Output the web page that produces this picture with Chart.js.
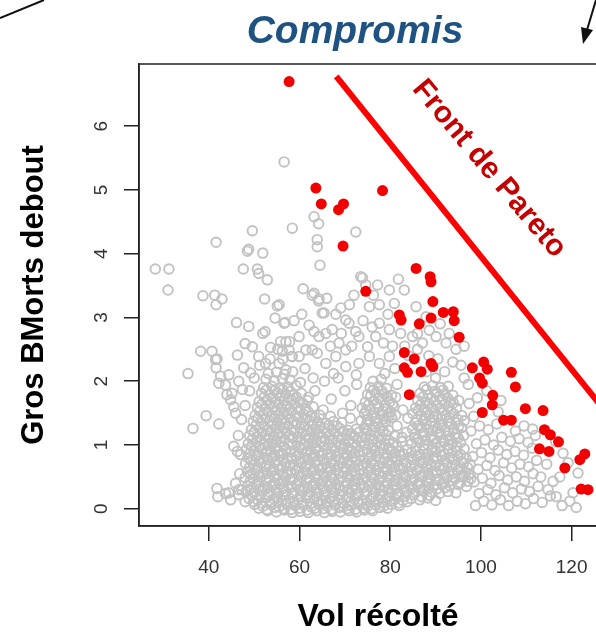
<!DOCTYPE html>
<html>
<head>
<meta charset="utf-8">
<title>Compromis</title>
<script src="https://cdn.jsdelivr.net/npm/chart.js@4.4.1/dist/chart.umd.min.js"></script>
<style>
  html, body { margin: 0; padding: 0; background: #fff; overflow: hidden; }
  #wrap { width: 640px; height: 636px; }
</style>
</head>
<body>
<div id="wrap"><canvas id="paretoChart" width="640" height="636"></canvas></div>
<script>
// labels
var chartTitle = 'Compromis';
var xTitle = 'Vol récolté';
var yTitle = 'Gros BMorts debout';
var frontLabel = 'Front de Pareto';

// axis ticks
var xTicks = [40, 60, 80, 100, 120];
var yTicks = [0, 1, 2, 3, 4, 5, 6];

// non dominated solutions (red dots)
var frontPoints = [
  [57.7,6.70],[63.6,5.03],[64.8,4.78],[68.6,4.69],[69.7,4.78],[78.3,4.99],[69.6,4.12],[74.6,3.41],
  [85.7,3.77],[88.8,3.64],[89.0,3.56],[89.4,3.25],[91.7,3.08],[93.9,3.09],[94.1,2.95],[89.0,2.99],
  [82.0,3.04],[82.4,2.96],[86.4,2.90],[95.2,2.69],[83.1,2.45],[85.3,2.35],[83.1,2.21],[83.8,2.14],
  [86.8,2.15],[89.0,2.28],[89.4,2.23],[84.2,1.79],[98.1,2.21],[100.6,2.30],[101.4,2.19],[99.7,2.05],
  [100.3,1.97],[106.7,2.14],[107.6,1.91],[102.6,1.78],[102.5,1.63],[100.3,1.51],[105.0,1.39],[106.7,1.39],
  [109.8,1.57],[113.7,1.54],[114.0,1.24],[115.3,1.16],[117.1,1.05],[112.9,0.94],[115.0,0.90],[118.5,0.64],
  [121.8,0.77],[122.9,0.86],[122.1,0.31],[123.6,0.30]
];

// pareto front line
var frontLine = [[68.1,6.78],[130,1.30]];

// scattered solutions away from the main cloud
var greyOutliers = [
  [56.6,5.44],[63.2,4.58],[64.2,4.47],[49.6,4.36],[58.4,4.40],[72.4,4.34],[41.6,4.18],[48.5,4.04],
  [48.8,4.07],[51.9,4.01],[63.9,4.22],[63.9,4.11],[64.5,3.82],[28.2,3.76],[31.2,3.76],[31.0,3.43],
  [47.6,3.76],[50.7,3.76],[51.0,3.69],[52.9,3.59],[38.7,3.34],[41.3,3.35],[42.9,3.29],[41.6,3.20],
  [52.3,3.29],[55.1,3.18],[54.6,2.99],[56.8,2.92],[46.1,2.92],[48.8,2.86],[51.9,2.75],[52.4,2.78],
  [48.0,2.59],[49.6,2.54],[53.6,2.53],[55.8,2.62],[57.8,2.62],[56.2,2.47],[58.3,2.39],[38.2,2.47],
  [40.7,2.47],[41.8,2.35],[46.3,2.41],[51.0,2.39],[52.5,2.28],[35.4,2.12],[41.6,2.21],[42.6,2.08],
  [44.4,2.10],[42.2,1.97],[43.7,1.94],[45.1,1.81],[39.4,1.46],[42.2,1.33],[36.5,1.26],[41.8,0.32],
  [42.0,0.19],[44.4,0.25],[44.8,0.14],[48.0,0.11],[46.6,0.30],[45.5,0.98],[46.3,0.90],[41.5,2.34],
  [44.0,1.79],[44.8,1.71],[47.7,2.21],[49.2,2.13],[46.6,2.00],[47.4,1.87],[45.5,1.60],[45.9,1.50],
  [43.7,0.24],[46.6,0.22]
];

// upper part of the cloud, between 2 and 4
var greyUpper = [
  [55.5,3.20],[56.6,2.91],[57.0,2.62],[57.7,2.49],[55.5,2.28],[57.0,2.18],[58.4,2.39],[62.8,3.35],
  [64.2,3.26],[65.0,3.07],[63.2,2.78],[64.3,2.70],[65.8,2.75],[62.8,2.49],[63.9,2.44],[69.1,3.15],
  [70.9,2.91],[72.4,2.78],[68.7,2.60],[70.2,2.49],[73.1,2.70],[75.0,2.54],[72.0,3.35],[73.9,3.62],
  [75.4,3.17],[77.6,3.20],[80.9,3.22],[83.1,3.43],[85.7,3.17],[87.9,3.01],[77.6,2.91],[79.8,2.81],
  [76.8,2.70],[84.9,2.70],[87.1,2.60],[90.1,2.70],[92.3,2.60],[59.9,2.70],[61.4,2.49],[59.9,2.39],
  [65.8,2.28],[68.0,2.39],[70.2,2.23],[73.1,2.28],[75.4,2.39],[77.6,2.28],[79.8,2.39],[65.4,3.07],
  [67.2,2.81],[62.1,2.88],[70.2,2.96],[73.5,3.64],[79.8,3.43],[77.2,3.51],[74.6,3.51],[63.2,3.38],
  [64.3,3.29],[60.5,3.05],[61.2,2.20],[63.0,2.05],[66.8,2.55],[67.5,2.12],[69.2,2.75],[71.5,2.55],
  [72.5,2.10],[74.0,2.95],[76.0,2.85],[78.5,2.60],[78.8,2.12],[80.5,2.55],[81.0,2.20],[82.3,2.75],
  [83.2,2.55],[81.5,1.95],[84.0,2.40],[86.0,2.50],[88.5,2.40],[90.5,2.35],[92.0,2.15],[93.8,2.30],
  [95.6,2.25],[94.5,2.50],[96.3,2.05],[97.2,1.95],[88.0,2.15],[90.0,2.05],[86.0,2.75],[88.6,2.80],
  [91.0,2.90],[93.0,2.75],[96.3,2.55],[81.8,3.60],[79.5,3.05],[76.3,3.35],[71.0,3.20],[68.0,3.05],
  [66.0,3.30],[60.8,3.45],[58.8,2.95],[58.5,2.15],[60.2,1.98],[56.3,2.35],[53.5,2.35],[55.2,2.50],
  [51.2,2.25],[50.0,2.05]
];

// dense core of the cloud
var greyCore = [
  [53.0,-0.03],[54.9,-0.05],[56.6,-0.02],[58.4,-0.06],[60.1,-0.04],[61.9,-0.06],[63.8,-0.03],[65.5,-0.06],
  [67.2,-0.04],[69.0,-0.05],[70.9,-0.03],[72.6,-0.05],[74.3,-0.02],[76.1,-0.03],
  [50.1,0.07],[51.9,0.04],[53.7,0.06],[55.5,0.03],[57.2,0.07],[59.0,0.05],[60.8,0.06],[62.6,0.03],
  [64.3,0.07],[66.1,0.04],[67.9,0.06],[69.6,0.03],[71.4,0.05],[73.2,0.07],[75.0,0.04],[76.8,0.06],
  [78.5,0.04],[80.2,0.07],[82.0,0.05],
  [48.9,0.16],[50.8,0.14],[52.6,0.17],[54.4,0.15],[56.1,0.13],[57.9,0.16],[59.7,0.14],[61.5,0.17],
  [63.2,0.15],[65.0,0.13],[66.8,0.16],[68.5,0.14],[70.3,0.17],[72.1,0.15],[73.9,0.13],[75.7,0.16],
  [77.4,0.14],[79.2,0.17],[81.0,0.15],[82.8,0.13],[84.6,0.16],[86.5,0.14],[88.3,0.17],[90.0,0.13],
  [48.2,0.27],[50.0,0.25],[51.7,0.28],[53.5,0.26],[55.3,0.24],[57.0,0.27],[58.8,0.25],[60.6,0.28],
  [62.4,0.26],[64.1,0.24],[65.9,0.27],[67.7,0.25],[69.4,0.28],[71.2,0.26],[73.0,0.24],[74.8,0.27],
  [76.6,0.25],[78.3,0.28],[80.1,0.26],[81.9,0.24],[83.7,0.27],[85.5,0.25],[87.3,0.28],[89.1,0.26],
  [90.9,0.24],[92.7,0.27],[94.5,0.25],
  [48.6,0.36],[50.4,0.38],[52.2,0.35],[53.9,0.37],[55.7,0.39],[57.5,0.36],[59.3,0.38],[61.0,0.35],
  [62.8,0.37],[64.6,0.39],[66.4,0.36],[68.1,0.38],[69.9,0.35],[71.7,0.37],[73.5,0.39],[75.2,0.36],
  [77.0,0.38],[78.8,0.35],[80.6,0.37],[82.4,0.39],[84.2,0.36],[86.0,0.38],[87.8,0.35],[89.6,0.37],
  [91.4,0.39],[93.2,0.36],[95.0,0.38],[96.8,0.35],
  [48.0,0.49],[49.8,0.47],[51.5,0.50],[53.3,0.48],[55.1,0.46],[56.9,0.49],[58.6,0.47],[60.4,0.50],
  [62.2,0.48],[64.0,0.46],[65.7,0.49],[67.5,0.47],[69.3,0.50],[71.0,0.48],[72.8,0.46],[74.6,0.49],
  [76.4,0.47],[78.1,0.50],[79.9,0.48],[81.7,0.46],[83.5,0.49],[85.3,0.47],[87.1,0.50],[88.9,0.48],
  [90.7,0.46],[92.5,0.49],[94.3,0.47],[96.1,0.50],[97.8,0.48],
  [48.5,0.58],[50.3,0.60],[52.0,0.57],[53.8,0.59],[55.6,0.61],[57.3,0.58],[59.1,0.60],[60.9,0.57],
  [62.7,0.59],[64.4,0.61],[66.2,0.58],[68.0,0.60],[69.8,0.57],[71.5,0.59],[73.3,0.61],[75.1,0.58],
  [76.9,0.60],[78.7,0.57],[80.4,0.59],[82.2,0.61],[84.0,0.58],[85.8,0.60],[87.6,0.57],[89.4,0.59],
  [91.2,0.61],[93.0,0.58],[94.8,0.60],[96.6,0.57],
  [48.1,0.71],[49.9,0.69],[51.6,0.72],[53.4,0.70],[55.2,0.68],[57.0,0.71],[58.7,0.69],[60.5,0.72],
  [62.3,0.70],[64.1,0.68],[65.8,0.71],[67.6,0.69],[69.4,0.72],[71.1,0.70],[72.9,0.68],[74.7,0.71],
  [76.5,0.69],[78.3,0.72],[80.0,0.70],[81.8,0.68],[83.6,0.71],[85.4,0.69],[87.2,0.72],[89.0,0.70],
  [90.8,0.68],[92.6,0.71],[94.4,0.69],[96.2,0.72],[97.6,0.70],
  [48.6,0.80],[50.4,0.82],[52.1,0.79],[53.9,0.81],[55.7,0.83],[57.4,0.80],[59.2,0.82],[61.0,0.79],
  [62.8,0.81],[64.5,0.83],[66.3,0.80],[68.1,0.82],[69.9,0.79],[71.6,0.81],[73.4,0.83],[75.2,0.80],
  [77.0,0.82],[78.8,0.79],[80.5,0.81],[82.3,0.83],[84.1,0.80],[85.9,0.82],[87.7,0.79],[89.5,0.81],
  [91.3,0.83],[93.1,0.80],[94.9,0.82],[96.7,0.79],
  [48.3,0.93],[50.0,0.91],[51.8,0.94],[53.6,0.92],[55.3,0.90],[57.1,0.93],[58.9,0.91],[60.7,0.94],
  [62.4,0.92],[64.2,0.90],[66.0,0.93],[67.8,0.91],[69.5,0.94],[71.3,0.92],[73.1,0.90],[74.9,0.93],
  [76.6,0.91],[78.4,0.94],[80.2,0.92],[82.0,0.90],[83.8,0.93],[85.6,0.91],[87.4,0.94],[89.2,0.92],
  [91.0,0.90],[92.8,0.93],[94.6,0.91],[96.3,0.94],
  [48.7,1.02],[50.5,1.04],[52.3,1.01],[54.0,1.03],[55.8,1.05],[57.6,1.02],[59.4,1.04],[61.1,1.01],
  [62.9,1.03],[64.7,1.05],[66.5,1.02],[68.2,1.04],[70.0,1.01],[71.8,1.03],[73.6,1.05],[75.3,1.02],
  [77.1,1.04],[78.9,1.01],[80.7,1.03],[82.5,1.05],[84.7,1.02],[86.5,1.04],[88.3,1.01],[90.1,1.03],
  [91.9,1.05],[93.7,1.02],[95.5,1.04],
  [49.0,1.15],[50.8,1.13],[52.5,1.16],[54.3,1.14],[56.1,1.12],[57.9,1.15],[59.6,1.13],[61.4,1.16],
  [63.2,1.14],[65.0,1.12],[66.7,1.15],[68.5,1.13],[70.3,1.16],[72.0,1.14],[73.8,1.12],[75.6,1.15],
  [77.4,1.13],[79.1,1.16],[81.0,1.14],[85.4,1.12],[87.2,1.15],[89.0,1.13],[90.8,1.16],[92.6,1.14],
  [94.4,1.12],[96.2,1.15],
  [49.4,1.24],[51.2,1.26],[53.0,1.23],[54.8,1.25],[56.5,1.27],[58.3,1.24],[60.1,1.26],[61.8,1.23],
  [63.6,1.25],[65.4,1.27],[67.2,1.24],[68.9,1.26],[70.7,1.23],[72.5,1.25],[74.3,1.27],[76.1,1.24],
  [77.8,1.26],[79.6,1.23],[84.9,1.25],[86.7,1.27],[88.5,1.24],[90.3,1.26],[92.1,1.23],[93.9,1.25],
  [95.7,1.27],
  [49.8,1.37],[51.6,1.35],[53.4,1.38],[55.1,1.36],[56.9,1.34],[58.7,1.37],[60.4,1.35],[62.2,1.38],
  [64.0,1.36],[65.8,1.34],[67.5,1.37],[69.3,1.35],[73.6,1.38],[75.4,1.36],[77.2,1.34],[79.0,1.37],
  [85.5,1.35],[87.3,1.38],[89.1,1.36],[90.9,1.34],[92.7,1.37],[94.5,1.35],[96.3,1.38],
  [50.2,1.46],[52.0,1.48],[53.8,1.45],[55.6,1.47],[57.3,1.49],[59.1,1.46],[60.9,1.48],[62.6,1.45],
  [64.4,1.47],[74.3,1.49],[76.1,1.46],[77.9,1.48],[79.7,1.45],[81.2,1.47],[85.0,1.49],[86.8,1.46],
  [88.6,1.48],[90.4,1.45],[92.2,1.47],[94.0,1.49],[95.8,1.46],
  [50.7,1.59],[52.5,1.57],[54.2,1.60],[56.0,1.58],[57.8,1.56],[59.6,1.59],[61.3,1.57],[63.0,1.60],
  [73.8,1.58],[75.6,1.56],[77.4,1.59],[79.2,1.57],[80.8,1.60],[85.6,1.58],[87.4,1.56],[89.2,1.59],
  [91.0,1.57],[92.8,1.60],[94.6,1.58],
  [51.1,1.68],[52.9,1.70],[54.7,1.67],[56.5,1.69],[58.2,1.71],[60.0,1.68],[61.7,1.70],[74.5,1.67],
  [76.3,1.69],[78.1,1.71],[79.9,1.68],[86.1,1.70],[87.9,1.67],[89.7,1.69],[91.5,1.71],[93.3,1.68],
  [95.1,1.70],
  [51.6,1.81],[53.4,1.79],[55.1,1.82],[56.9,1.80],[58.7,1.78],[60.4,1.81],[75.0,1.79],[76.8,1.82],
  [78.6,1.80],[80.3,1.78],[86.6,1.81],[88.4,1.79],[90.2,1.82],[92.0,1.80],[93.8,1.78],
  [52.1,1.90],[53.9,1.92],[55.7,1.89],[57.4,1.91],[59.2,1.93],[75.6,1.90],[77.4,1.92],[79.2,1.89],
  [87.5,1.91],[89.3,1.93],[91.1,1.90],[92.8,1.92],
  [52.6,2.03],[54.4,2.01],[56.2,2.04],[57.9,2.02],[76.2,2.00],[78.0,2.03],
  [53.1,2.12],[54.9,2.14],[56.7,2.11],
  [65.2,1.55],[67.0,1.72],[69.5,1.50],[71.3,1.62],[70.0,1.85],[72.6,1.95],[63.4,1.85],[65.5,2.00],
  [68.5,2.05],[81.5,1.30],[82.8,1.55],[81.2,1.75],[83.5,1.20],[82.6,1.12],[83.9,1.42],[71.2,1.42],
  [66.8,1.45],[62.0,1.75],[46.8,0.55],[47.0,0.85],[46.5,1.15],[47.2,1.40],[48.0,1.62],[49.0,1.85],
  [45.9,0.40],[47.3,0.30]
];

// dense core, points lying between the rows above
var greyCoreFill = [
  [51.0,0.01],[52.8,-0.01],[54.6,0.02],[56.4,0.00],[58.1,-0.01],[59.9,0.01],[61.7,-0.02],[63.4,0.01],
  [65.2,0.00],[67.0,-0.01],[68.8,0.02],[70.5,0.00],[72.3,-0.01],[74.1,0.01],[75.9,0.00],[77.7,0.02],
  [79.4,0.01],
  [49.9,0.11],[51.7,0.09],[53.5,0.10],[55.3,0.12],[57.0,0.09],[58.8,0.11],[60.6,0.10],[62.4,0.08],
  [64.1,0.11],[65.9,0.10],[67.7,0.12],[69.4,0.09],[71.2,0.11],[73.0,0.10],[74.8,0.08],[76.6,0.11],
  [78.3,0.10],[80.1,0.12],[81.9,0.09],[83.7,0.11],
  [49.5,0.21],[51.3,0.20],[53.1,0.22],[54.9,0.19],[56.6,0.21],[58.4,0.23],[60.2,0.20],[62.0,0.22],
  [63.7,0.19],[65.5,0.21],[67.3,0.20],[69.0,0.22],[70.8,0.19],[72.6,0.21],[74.4,0.23],[76.2,0.20],
  [77.9,0.22],[79.7,0.19],[81.5,0.21],[83.3,0.20],[85.1,0.22],[86.9,0.19],[88.7,0.21],
  [49.3,0.32],[51.1,0.31],[52.9,0.33],[54.7,0.30],[56.4,0.32],[58.2,0.34],[60.0,0.31],[61.8,0.33],
  [63.5,0.30],[65.3,0.32],[67.1,0.31],[68.8,0.33],[70.6,0.30],[72.4,0.32],[74.2,0.34],[76.0,0.31],
  [77.7,0.33],[79.5,0.30],[81.3,0.32],[83.1,0.31],[84.9,0.33],[86.7,0.30],[88.5,0.32],[90.3,0.31],
  [92.1,0.33],
  [49.1,0.43],[50.9,0.42],[52.7,0.44],[54.5,0.41],[56.3,0.43],[58.0,0.45],[59.8,0.42],[61.6,0.44],
  [63.4,0.41],[65.1,0.43],[66.9,0.42],[68.7,0.44],[70.5,0.41],[72.2,0.43],[74.0,0.45],[75.8,0.42],
  [77.6,0.44],[79.3,0.41],[81.1,0.43],[82.9,0.42],[84.7,0.44],[86.5,0.41],[88.3,0.43],[90.1,0.45],
  [91.9,0.42],[93.7,0.44],[95.5,0.41],[97.2,0.43],
  [49.2,0.54],[51.0,0.53],[52.8,0.55],[54.5,0.52],[56.3,0.54],[58.1,0.56],[59.9,0.53],[61.6,0.55],
  [63.4,0.52],[65.2,0.54],[67.0,0.53],[68.7,0.55],[70.5,0.52],[72.3,0.54],[74.1,0.56],[75.8,0.53],
  [77.6,0.55],[79.4,0.52],[81.2,0.54],[83.0,0.53],[84.8,0.55],[86.6,0.52],[88.4,0.54],[90.2,0.56],
  [92.0,0.53],[93.8,0.55],[95.6,0.52],[97.3,0.54],
  [49.0,0.65],[50.8,0.64],[52.6,0.66],[54.3,0.63],[56.1,0.65],[57.9,0.67],[59.7,0.64],[61.4,0.66],
  [63.2,0.63],[65.0,0.65],[66.8,0.64],[68.5,0.66],[70.3,0.63],[72.1,0.65],[73.9,0.67],[75.6,0.64],
  [77.4,0.66],[79.2,0.63],[81.0,0.65],[82.8,0.64],[84.6,0.66],[86.4,0.63],[88.2,0.65],[90.0,0.67],
  [91.8,0.64],[93.6,0.66],[95.4,0.63],[97.0,0.65],
  [49.3,0.76],[51.1,0.75],[52.9,0.77],[54.6,0.74],[56.4,0.76],[58.2,0.78],[60.0,0.75],[61.7,0.77],
  [63.5,0.74],[65.3,0.76],[67.1,0.75],[68.8,0.77],[70.6,0.74],[72.4,0.76],[74.2,0.78],[75.9,0.75],
  [77.7,0.77],[79.5,0.74],[81.3,0.76],[83.0,0.75],[84.8,0.77],[86.6,0.74],[88.4,0.76],[90.2,0.78],
  [92.0,0.75],[93.8,0.77],[95.6,0.74],
  [49.1,0.87],[50.9,0.86],[52.7,0.88],[54.5,0.85],[56.2,0.87],[58.0,0.89],[59.8,0.86],[61.6,0.88],
  [63.3,0.85],[65.1,0.87],[66.9,0.86],[68.7,0.88],[70.4,0.85],[72.2,0.87],[74.0,0.89],[75.8,0.86],
  [77.5,0.88],[79.3,0.85],[81.1,0.87],[82.9,0.86],[84.7,0.88],[86.5,0.85],[88.3,0.87],[90.1,0.89],
  [91.9,0.86],[93.7,0.88],[95.5,0.85],
  [49.4,0.98],[51.2,0.97],[53.0,0.99],[54.8,0.96],[56.5,0.98],[58.3,1.00],[60.1,0.97],[61.9,0.99],
  [63.6,0.96],[65.4,0.98],[67.2,0.97],[69.0,0.99],[70.7,0.96],[72.5,0.98],[74.3,1.00],[76.1,0.97],
  [77.8,0.99],[79.6,0.96],[81.4,0.98],[85.7,0.97],[87.5,0.99],[89.3,0.96],[91.1,0.98],[92.9,1.00],
  [94.7,0.97],
  [49.6,1.09],[51.4,1.08],[53.2,1.10],[55.0,1.07],[56.7,1.09],[58.5,1.11],[60.3,1.08],[62.1,1.10],
  [63.8,1.07],[65.6,1.09],[67.4,1.08],[69.2,1.10],[70.9,1.07],[72.7,1.09],[74.5,1.11],[76.3,1.08],
  [78.0,1.10],[79.8,1.07],[86.0,1.09],[87.8,1.08],[89.6,1.10],[91.4,1.07],[93.2,1.09],[95.0,1.11],
  [50.0,1.20],[51.8,1.19],[53.6,1.21],[55.4,1.18],[57.1,1.20],[58.9,1.22],[60.7,1.19],[62.5,1.21],
  [64.2,1.18],[66.0,1.20],[67.8,1.19],[69.6,1.21],[71.3,1.18],[73.1,1.20],[74.9,1.22],[76.7,1.19],
  [78.4,1.21],[85.6,1.18],[87.4,1.20],[89.2,1.22],[91.0,1.19],[92.8,1.21],[94.6,1.18],
  [50.4,1.31],[52.2,1.30],[54.0,1.32],[55.8,1.29],[57.5,1.31],[59.3,1.33],[61.1,1.30],[62.9,1.32],
  [64.6,1.29],[66.4,1.31],[68.2,1.30],[74.8,1.32],[76.6,1.29],[78.4,1.31],[86.1,1.30],[87.9,1.32],
  [89.7,1.29],[91.5,1.31],[93.3,1.33],[95.1,1.30],
  [50.8,1.42],[52.6,1.41],[54.4,1.43],[56.2,1.40],[57.9,1.42],[59.7,1.44],[61.5,1.41],[63.3,1.43],
  [75.0,1.40],[76.8,1.42],[78.6,1.41],[80.3,1.43],[85.9,1.40],[87.7,1.42],[89.5,1.44],[91.3,1.41],
  [93.1,1.43],[94.9,1.40],
  [51.2,1.53],[53.0,1.52],[54.8,1.54],[56.6,1.51],[58.3,1.53],[60.1,1.55],[61.9,1.52],[74.7,1.54],
  [76.5,1.51],[78.3,1.53],[80.1,1.52],[86.2,1.54],[88.0,1.51],[89.8,1.53],[91.6,1.55],[93.4,1.52],
  [51.7,1.64],[53.5,1.63],[55.3,1.65],[57.1,1.62],[58.8,1.64],[60.6,1.66],[75.2,1.63],[77.0,1.65],
  [78.8,1.62],[80.5,1.64],[86.7,1.63],[88.5,1.65],[90.3,1.62],[92.1,1.64],[93.9,1.66],
  [52.2,1.75],[54.0,1.74],[55.8,1.76],[57.6,1.73],[59.3,1.75],[75.7,1.77],[77.5,1.74],[79.3,1.76],
  [87.2,1.75],[89.0,1.73],[90.8,1.76],[92.6,1.74],
  [52.7,1.86],[54.5,1.85],[56.3,1.87],[58.0,1.84],[76.3,1.86],[78.1,1.85],[88.0,1.87],[89.8,1.84],
  [91.6,1.86]
];

// sparser right hand part of the cloud
var greyRight = [
  [98.8,0.05],[100.6,0.12],[102.4,0.06],[104.3,0.14],[106.1,0.05],[108.0,0.12],[109.8,0.08],[111.6,0.16],
  [113.5,0.10],[115.3,0.20],[116.6,0.19],[120.3,0.25],[117.9,0.05],[119.6,0.12],[121.0,0.02],
  [99.6,0.24],[101.5,0.30],[103.3,0.22],[105.2,0.33],[107.0,0.25],[108.9,0.31],[110.7,0.27],[112.6,0.35],
  [114.8,0.30],[115.9,0.43],[98.5,0.42],[100.3,0.48],[102.2,0.40],[104.0,0.52],[105.9,0.45],[107.8,0.50],
  [109.6,0.43],[111.5,0.55],[113.2,0.50],[117.4,0.50],[121.4,0.56],[99.4,0.62],[101.3,0.68],[103.1,0.60],
  [105.0,0.72],[106.8,0.64],[108.6,0.70],[110.5,0.66],[112.3,0.76],[114.5,0.70],[119.2,0.72],[98.2,0.82],
  [100.1,0.88],[102.0,0.80],[103.8,0.92],[105.7,0.85],[107.5,0.90],[109.4,0.84],[111.3,0.95],[118.1,0.87],
  [116.5,1.05],[99.0,1.02],[100.9,1.08],[102.8,1.00],[104.6,1.12],[106.5,1.06],[108.4,1.10],[110.4,1.04],
  [112.0,1.15],[97.8,1.22],[99.7,1.30],[101.6,1.24],[103.5,1.33],[107.6,1.22],[109.5,1.30],[111.4,1.25],
  [98.4,1.45],[103.8,1.52],[97.4,1.65],[99.2,1.74],[101.3,1.85],[104.4,1.70]
];

function toXY(list) {
  return list.map(function (p) { return { x: p[0], y: p[1] }; });
}

var allGrey = greyCore.concat(greyCoreFill, greyRight, greyUpper, greyOutliers);
var fontFamily = '"Liberation Sans", Arial, Helvetica, sans-serif';

// text, box and the two connector arrows around the plot
var decorations = {
  id: 'decorations',
  beforeDatasetsDraw: function (chart) {
    var ctx = chart.ctx, a = chart.chartArea;
    ctx.save();
    ctx.strokeStyle = '#222';
    ctx.lineWidth = 1.5;
    ctx.strokeRect(a.left, a.top, a.right - a.left, a.bottom - a.top);
    ctx.restore();
  },
  afterDraw: function (chart) {
    var ctx = chart.ctx, a = chart.chartArea;
    var xs = chart.scales.x, ys = chart.scales.y;
    ctx.save();

    // y tick labels, turned like base R axes
    ctx.fillStyle = '#333';
    ctx.font = '19px ' + fontFamily;
    ctx.textAlign = 'center';
    ctx.textBaseline = 'middle';
    yTicks.forEach(function (v) {
      ctx.save();
      ctx.translate(a.left - 37, ys.getPixelForValue(v));
      ctx.rotate(-Math.PI / 2);
      ctx.fillText(String(v), 0, 0);
      ctx.restore();
    });

    // main title
    ctx.fillStyle = '#1d5282';
    ctx.font = 'italic bold 39px ' + fontFamily;
    ctx.fillText(chartTitle, 355, 32);

    // label along the front
    ctx.save();
    ctx.translate(xs.getPixelForValue(101.8), ys.getPixelForValue(5.33));
    ctx.rotate(50 * Math.PI / 180);
    ctx.fillStyle = '#c40000';
    ctx.font = 'bold 30px ' + fontFamily;
    ctx.fillText(frontLabel, 0, 0);
    ctx.restore();

    // connector lines towards the neighbouring panels
    ctx.strokeStyle = '#111';
    ctx.fillStyle = '#111';
    ctx.lineWidth = 2;
    ctx.beginPath();
    ctx.moveTo(0, 18);
    ctx.lineTo(44, 0);
    ctx.stroke();
    ctx.beginPath();
    ctx.moveTo(596, 0);
    ctx.lineTo(587, 30);
    ctx.stroke();
    ctx.beginPath();
    ctx.moveTo(583, 44);
    ctx.lineTo(593, 30);
    ctx.lineTo(581, 27);
    ctx.closePath();
    ctx.fill();

    ctx.restore();
  }
};

new Chart('paretoChart', {
  type: 'scatter',
  data: {
    datasets: [
      {
        label: frontLabel,
        data: toXY(frontLine),
        showLine: true,
        borderColor: '#ff0000',
        borderWidth: 6,
        borderCapStyle: 'butt',
        pointRadius: 0,
        order: 1
      },
      {
        label: 'Pareto',
        data: toXY(frontPoints),
        backgroundColor: '#f20000',
        borderColor: '#f20000',
        borderWidth: 0,
        pointRadius: 5.5,
        order: 2
      },
      {
        label: 'Solutions',
        data: toXY(allGrey),
        backgroundColor: 'rgba(0,0,0,0)',
        borderColor: '#c2c2c2',
        borderWidth: 1.9,
        pointRadius: 4.8,
        order: 3
      }
    ]
  },
  options: {
    responsive: false,
    animation: false,
    devicePixelRatio: 1,
    layout: { padding: { top: 64, right: 23, left: 0, bottom: 0 } },
    plugins: {
      legend: { display: false },
      tooltip: { enabled: false }
    },
    scales: {
      x: {
        type: 'linear',
        position: 'bottom',
        min: 24.6,
        max: 130,
        bounds: 'data',
        afterBuildTicks: function (scale) {
          scale.ticks = xTicks.map(function (v) { return { value: v }; });
        },
        afterFit: function (scale) { scale.height = 110; },
        ticks: {
          color: '#333',
          font: { family: fontFamily, size: 19 },
          padding: 15,
          maxRotation: 0
        },
        grid: { drawOnChartArea: false, drawTicks: true, tickLength: 15, color: '#222', lineWidth: 1.5 },
        border: { display: true, color: '#222', width: 1.5 },
        title: {
          display: true,
          text: xTitle,
          color: '#000',
          font: { family: fontFamily, size: 32, weight: 'bold' },
          padding: { top: 0, bottom: 0 }
        }
      },
      y: {
        type: 'linear',
        position: 'left',
        min: -0.27,
        max: 6.975,
        bounds: 'data',
        afterBuildTicks: function (scale) {
          scale.ticks = yTicks.map(function (v) { return { value: v }; });
        },
        afterFit: function (scale) { scale.width = 139; },
        ticks: { display: false },
        grid: { drawOnChartArea: false, drawTicks: true, tickLength: 15, color: '#222', lineWidth: 1.5 },
        border: { display: true, color: '#222', width: 1.5 },
        title: {
          display: true,
          text: yTitle,
          color: '#000',
          font: { family: fontFamily, size: 31, weight: 'bold' },
          padding: { top: 16, bottom: 0 }
        }
      }
    }
  },
  plugins: [decorations]
});
</script>
</body>
</html>
